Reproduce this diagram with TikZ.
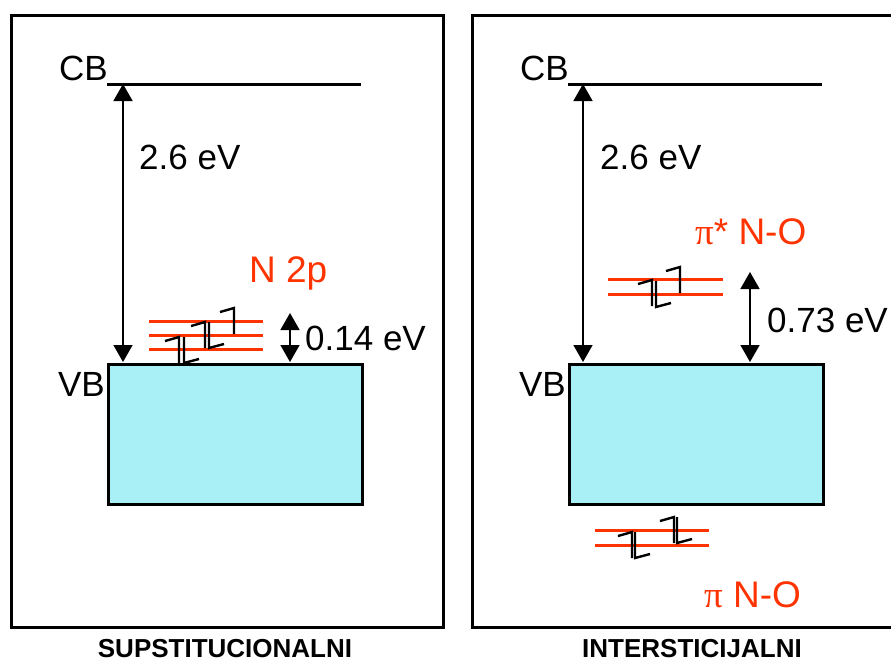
\documentclass[tikz,border=0pt]{standalone}
\usepackage{fontspec}
\setmainfont{Liberation Sans}
\newfontfamily\grkfont{Liberation Serif}
\usetikzlibrary{arrows.meta}
\definecolor{lvl}{HTML}{FF3300}
\definecolor{vbfill}{HTML}{A8F0F5}
\tikzset{
  frame/.style={line width=3pt, draw=black},
  band/.style={line width=3pt, draw=black},
  vbbox/.style={draw=black, line width=3pt, fill=vbfill},
  level/.style={draw=lvl, line width=3pt},
  gap/.style={line width=1.6pt, {Triangle[width=19pt,length=17pt]}-{Triangle[width=19pt,length=17pt]}},
  spin/.style={line width=2.4pt, line join=miter},
  lbl/.style={font=\fontsize{35}{38}\selectfont, inner sep=0pt},
  rlbl/.style={font=\fontsize{37}{40}\selectfont, inner sep=0pt, text=lvl},
  captxt/.style={font=\fontsize{26}{30}\selectfont\bfseries, inner sep=0pt},
  spinup/.pic={\draw[spin] (-14,4) -- (0,0) -- (0,26);},
  spindown/.pic={\draw[spin] (0,0) -- (0,26) -- (15,22);}
}
\begin{document}
\begin{tikzpicture}[x=1pt,y=-1pt]
\useasboundingbox (0,0) rectangle (891,664);
\begin{scope}
\clip (0,0) rectangle (891,664);
% frames
\draw[frame] (11,15) rectangle (443,627);
\draw[frame] (472,15) rectangle (910,627);

% ---------------- left panel ----------------
\coordinate (cbL1) at (107,84);
\coordinate (cbL2) at (361,84);
\draw[band] (cbL1) -- (cbL2);
\node[lbl, anchor=east] (cbLt) at (108,68) {CB};
\node[vbbox, minimum width=254pt, minimum height=140pt, anchor=north west] (vbL) at (107,363) {};
\node[lbl, anchor=east] (vbLt) at (105,384) {VB};
\coordinate (aLtop) at (123,84);
\coordinate (aLbot) at (123,362);
\draw[gap] (aLtop) -- (aLbot);
\node[lbl, anchor=west] (egL) at (139,157) {2.6 eV};
% N 2p levels
\foreach \y in {321,335,349} \draw[level] (149,\y) -- (263,\y);
\pic at (179,337) {spinup};
\pic at (184,337) {spindown};
\pic at (205,322) {spinup};
\pic at (209,322) {spindown};
\pic at (234,308) {spinup};
\node[rlbl, anchor=west] (n2p) at (249,273) {N 2p};
\coordinate (gLtop) at (290,313);
\coordinate (gLbot) at (290,362);
\draw[gap] (gLtop) -- (gLbot);
\node[lbl, anchor=west] (e014) at (305,338) {0.14 eV};

% ---------------- right panel ----------------
\coordinate (cbR1) at (568,84);
\coordinate (cbR2) at (822,84);
\draw[band] (cbR1) -- (cbR2);
\node[lbl, anchor=east] (cbRt) at (569,68) {CB};
\node[vbbox, minimum width=254pt, minimum height=140pt, anchor=north west] (vbR) at (568,363) {};
\node[lbl, anchor=east] (vbRt) at (566,384) {VB};
\coordinate (aRtop) at (583,84);
\coordinate (aRbot) at (583,362);
\draw[gap] (aRtop) -- (aRbot);
\node[lbl, anchor=west] (egR) at (600,157) {2.6 eV};
% pi* levels
\foreach \y in {279,294} \draw[level] (608,\y) -- (723,\y);
\pic at (652,280) {spinup};
\pic at (656,281) {spindown};
\pic at (680,267) {spinup};
\node[rlbl, anchor=west] (pistar) at (695,232) {{\grkfont π}* N-O};
\coordinate (gRtop) at (750,272);
\coordinate (gRbot) at (750,362);
\draw[gap] (gRtop) -- (gRbot);
\node[lbl, anchor=west] (e073) at (767,320) {0.73 eV};
% pi levels
\foreach \y in {530,545} \draw[level] (595,\y) -- (709,\y);
\pic at (632,532) {spinup};
\pic at (635,532) {spindown};
\pic at (674,517) {spinup};
\pic at (677,517) {spindown};
\node[rlbl, anchor=west] (pi) at (704,595) {{\grkfont π} N-O};
\end{scope}

% captions
\node[captxt] (capL) at (225,649) {SUPSTITUCIONALNI};
\node[captxt] (capR) at (692,649) {INTERSTICIJALNI};
\end{tikzpicture}
\end{document}
